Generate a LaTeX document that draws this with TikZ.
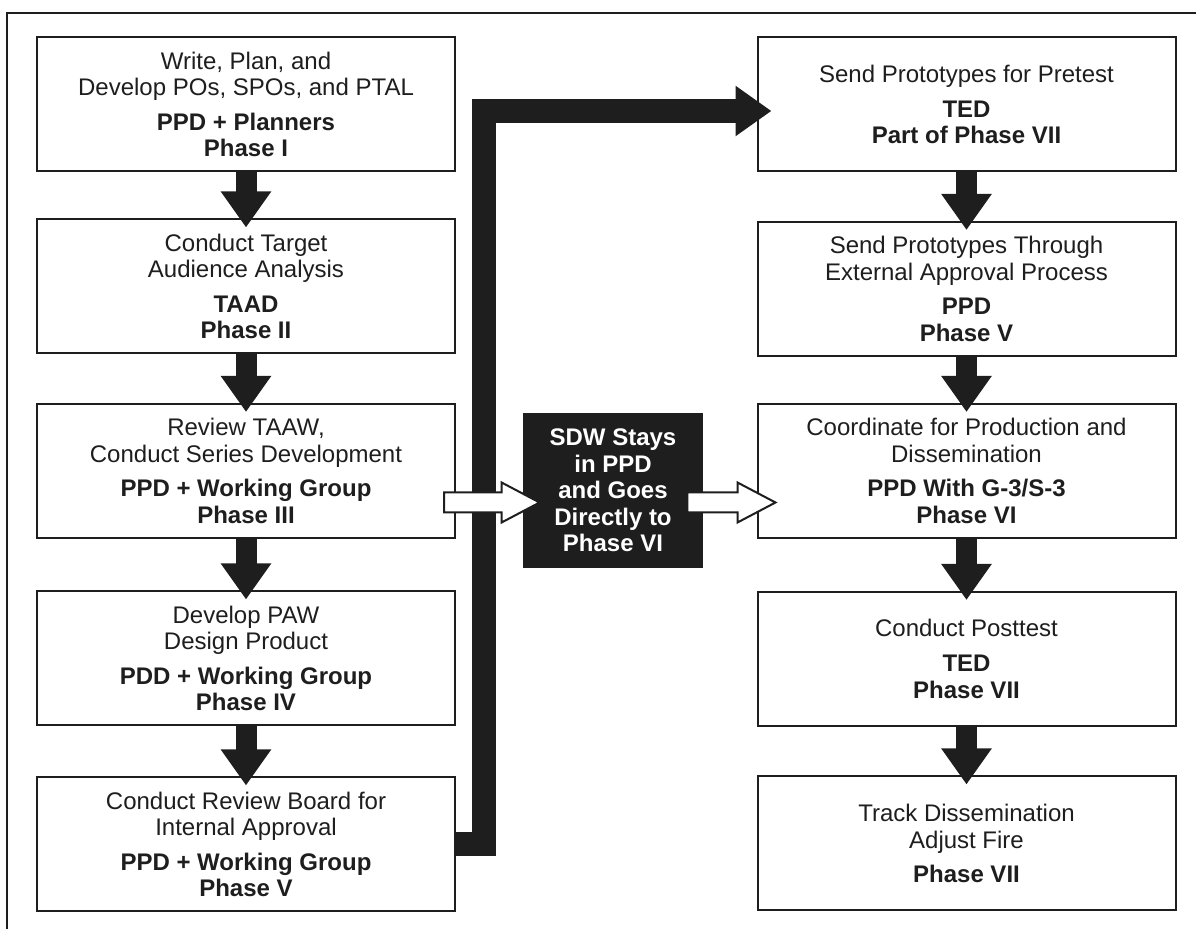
\documentclass[tikz,border=0pt]{standalone}
\usepackage{fontspec}
\setmainfont{Liberation Sans}
\usepackage{tikz}
\usetikzlibrary{arrows.meta,positioning,calc}

\definecolor{ink}{RGB}{30,30,30}

\begin{document}
\begin{tikzpicture}[x=0.5pt, y=-0.5pt,
  every node/.style={font=\fontsize{12}{13.3}\selectfont, text=ink},
  stage/.style={draw=ink, line width=1pt, fill=white, align=center,
    minimum width=209pt, minimum height=67pt, inner sep=0pt},
  blackbox/.style={fill=ink, align=center, minimum width=90pt,
    minimum height=77.5pt, inner sep=0pt,
    font=\fontsize{12}{13.3}\selectfont\bfseries, text=white},
  blockarrow/.style={draw=ink, line width=10.5pt,
    -{Triangle[length=18pt, width=24pt]}},
  bigarrow/.style={draw=ink, line width=12pt, line join=miter,
    -{Triangle[length=18pt, width=24pt]}},
  hollowarrow/.style={draw=ink, fill=white, line width=1pt, line join=miter,
    to path={let \p1=(\tikztostart), \p2=(\tikztotarget) in
      (\x1,\y1+5pt) -- (\x2-19pt,\y1+5pt) -- (\x2-19pt,\y1+10pt)
      -- (\x2,\y1) -- (\x2-19pt,\y1-10pt) -- (\x2-19pt,\y1-5pt)
      -- (\x1,\y1-5pt) -- cycle}}]

\useasboundingbox (0,0) rectangle (1196,929);
\draw[ink, line width=1pt] (7,929) -- (7,13) -- (1196,13);

% left column
\node[stage] (L1) at (246,104.5) {Write, Plan, and\\Develop POs, SPOs, and PTAL\\[4pt]
  \textbf{PPD + Planners}\\\textbf{Phase I}};
\node[stage] (L2) at (246,286.5) {Conduct Target\\Audience Analysis\\[4pt]
  \textbf{TAAD}\\\textbf{Phase II}};
\node[stage] (L3) at (246,471) {Review TAAW,\\Conduct Series Development\\[4pt]
  \textbf{PPD + Working Group}\\\textbf{Phase III}};
\node[stage] (L4) at (246,658.5) {Develop PAW\\Design Product\\[4pt]
  \textbf{PDD + Working Group}\\\textbf{Phase IV}};
\node[stage] (L5) at (246,844.5) {Conduct Review Board for\\Internal Approval\\[4pt]
  \textbf{PPD + Working Group}\\\textbf{Phase V}};

% right column
\node[stage] (R1) at (966.5,104.5) {Send Prototypes for Pretest\\[4pt]
  \textbf{TED}\\\textbf{Part of Phase VII}};
\node[stage] (R2) at (966.5,289) {Send Prototypes Through\\External Approval Process\\[4pt]
  \textbf{PPD}\\\textbf{Phase V}};
\node[stage] (R3) at (966.5,471) {Coordinate for Production and\\Dissemination\\[4pt]
  \textbf{PPD With G-3/S-3}\\\textbf{Phase VI}};
\node[stage] (R4) at (966.5,659) {Conduct Posttest\\[4pt]
  \textbf{TED}\\\textbf{Phase VII}};
\node[stage] (R5) at (966.5,843.5) {Track Dissemination\\Adjust Fire\\[4pt]
  \textbf{Phase VII}};

% shortcut
\node[blackbox] (sdw) at (613,490.5) {SDW Stays\\in PPD\\and Goes\\Directly to\\Phase VI};

% flow arrows
\foreach \a/\b in {L1/L2, L2/L3, L3/L4, L4/L5, R1/R2, R2/R3, R3/R4, R4/R5}
  \draw[blockarrow] (\a.south) -- ([yshift=-4.5pt]\b.north);

\coordinate (riser) at (484,111);
\draw[bigarrow] (L5.east) -| (riser) -- ([xshift=7.5pt, yshift=-3.25pt]R1.west);

\draw[hollowarrow] ([xshift=-6pt, yshift=-15.75pt]L3.east) to ([xshift=8.5pt]sdw.west);
\draw[hollowarrow] ([xshift=-8pt, yshift=-6pt]sdw.east) to ([xshift=9.5pt]R3.west);
\end{tikzpicture}
\end{document}
